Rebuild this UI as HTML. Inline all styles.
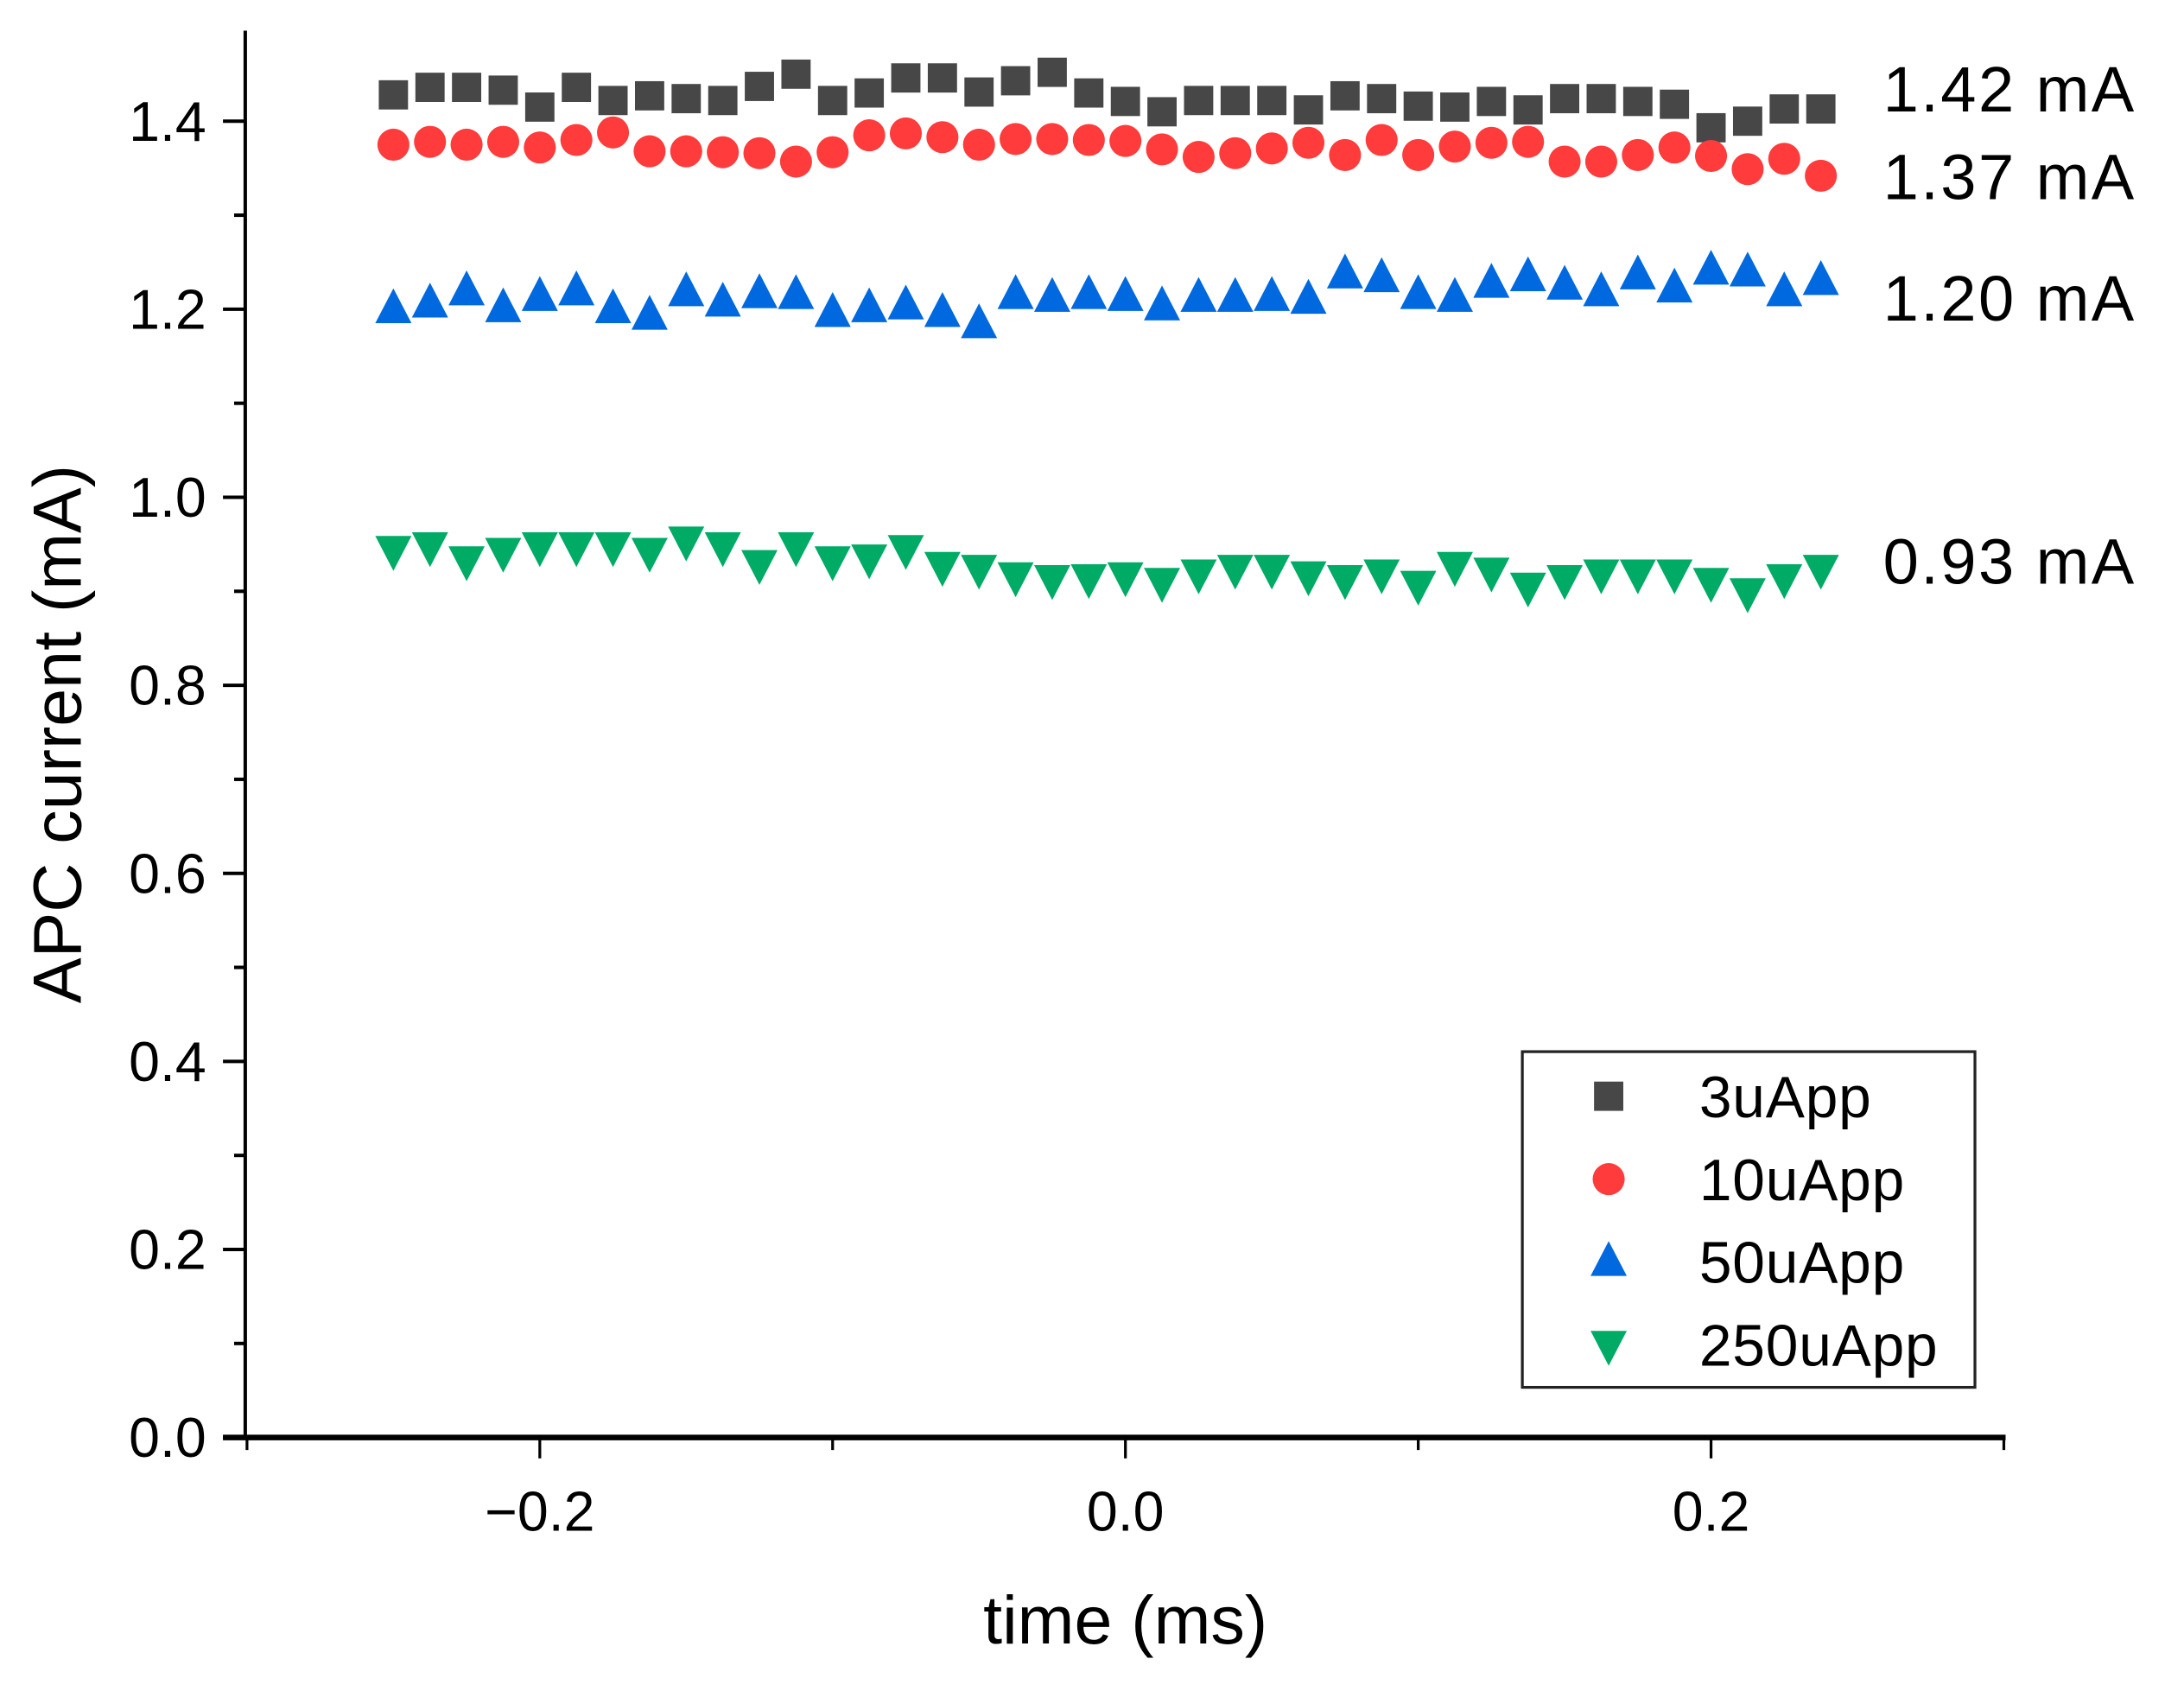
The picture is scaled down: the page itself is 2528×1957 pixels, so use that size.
<!DOCTYPE html>
<html><head><meta charset="utf-8"><style>
html,body{margin:0;padding:0;background:#fff;}
svg{display:block;font-family:"Liberation Sans",sans-serif;}
</style></head><body>
<svg id="chart" width="2528" height="1957" viewBox="0 0 1568 1214" xmlns="http://www.w3.org/2000/svg">
<g id="axes"></g>
<g id="marks"></g>
<g id="labels"></g>
<g id="legend"></g>
</svg>
<script>
const NS="http://www.w3.org/2000/svg";
const xTicks=[-0.2,0.0,0.2];
const xTickLabels=["\u22120.2","0.0","0.2"];
const yTicks=[0,0.2,0.4,0.6,0.8,1.0,1.2,1.4];
const yTickLabels=["0.0","0.2","0.4","0.6","0.8","1.0","1.2","1.4"];
const seriesNames=["3uApp","10uApp","50uApp","250uApp"];
const annotations=["1.42 mA","1.37 mA","1.20 mA","0.93 mA"];
const xStart=-0.25, xStep=0.0125;
const s3=[1.428,1.436,1.436,1.433,1.415,1.436,1.422,1.427,1.424,1.422,1.437,1.450,1.422,1.430,1.446,1.446,1.431,1.443,1.452,1.430,1.421,1.410,1.422,1.422,1.422,1.412,1.427,1.424,1.416,1.415,1.421,1.412,1.424,1.424,1.421,1.418,1.393,1.400,1.413,1.413];
const s10=[1.375,1.378,1.375,1.378,1.372,1.380,1.388,1.368,1.368,1.367,1.366,1.357,1.367,1.385,1.387,1.383,1.375,1.381,1.381,1.380,1.379,1.370,1.362,1.366,1.371,1.377,1.364,1.380,1.364,1.373,1.377,1.378,1.357,1.357,1.364,1.372,1.363,1.349,1.360,1.342];
const s50=[1.200,1.206,1.219,1.201,1.213,1.219,1.200,1.193,1.218,1.207,1.216,1.215,1.196,1.201,1.204,1.196,1.184,1.215,1.212,1.215,1.213,1.203,1.212,1.212,1.213,1.210,1.237,1.233,1.215,1.212,1.227,1.234,1.225,1.218,1.236,1.222,1.241,1.239,1.218,1.230];
const s250=[0.944,0.948,0.933,0.942,0.948,0.948,0.948,0.942,0.954,0.948,0.929,0.948,0.933,0.935,0.945,0.927,0.924,0.916,0.913,0.914,0.916,0.910,0.919,0.924,0.924,0.917,0.913,0.919,0.907,0.927,0.921,0.905,0.913,0.919,0.919,0.919,0.910,0.899,0.914,0.924];
const colors=["#474747","#ff3b3b","#0069df","#00ab66"];
const X=v=>808+v*2102.5;
const Y=v=>1032-v*675;
function mk(tag,attrs,parent){const e=document.createElementNS(NS,tag);for(const k in attrs)e.setAttribute(k,attrs[k]);parent.appendChild(e);return e;}
const axes=document.getElementById('axes');
let e;
e=mk('line',{x1:176,y1:22,x2:176,y2:1032,stroke:'#000','stroke-width':2.5},axes);


e=mk('line',{x1:160,y1:1032,x2:1440,y2:1032,stroke:'#000','stroke-width':4},axes);


for(let i=0;i<=14;i++){const v=i*0.1;const major=i%2===0;
 e=mk('line',{x1:major?160:168,y1:Y(v),x2:176,y2:Y(v),stroke:'#000','stroke-width':2.5},axes);
 
 }
yTicks.forEach((v,i)=>{e=mk('text',{x:148,y:Y(v)+14,'text-anchor':'end','font-size':40,fill:'#000'},axes);e.textContent=yTickLabels[i];
 
 });
for(let i=-3;i<=3;i++){const v=i*0.1;const major=i%2===0;
 e=mk('line',{x1:X(v),y1:1032,x2:X(v),y2:major?1047:1041,stroke:'#000','stroke-width':2},axes);
 
 }
xTicks.forEach((v,i)=>{e=mk('text',{x:X(v),y:1099,'text-anchor':'middle','font-size':40,fill:'#000'},axes);e.textContent=xTickLabels[i];
 
 });
e=mk('text',{x:808,y:1180,'text-anchor':'middle','font-size':49,fill:'#000'},axes);e.textContent='time (ms)';


e=mk('text',{x:0,y:0,'text-anchor':'middle','font-size':49,fill:'#000',transform:'translate(58,527) rotate(-90)'},axes);e.textContent='APC current (mA)';



function marker(type,cx,cy,color,parent){
 if(type===0) return mk('rect',{x:cx-10.5,y:cy-10.5,width:21,height:21,fill:color},parent);
 if(type===1) return mk('circle',{cx:cx,cy:cy,r:11.5,fill:color},parent);
 if(type===2) return mk('polygon',{points:`${cx},${cy-15} ${cx-13},${cy+10} ${cx+13},${cy+10}`,fill:color},parent);
 return mk('polygon',{points:`${cx},${cy+15} ${cx-13},${cy-10} ${cx+13},${cy-10}`,fill:color},parent);
}
const marks=document.getElementById('marks');
[s3,s10,s50,s250].forEach((arr,si)=>{
 const g=mk('g',{},marks);
 
 
 arr.forEach((v,i)=>{const m=marker(si,X(xStart+i*xStep),Y(v),colors[si],g);
  
  });
});
const labels=document.getElementById('labels');
const annY=[80,143,230,419];
annotations.forEach((t,i)=>{e=mk('text',{x:1352,y:annY[i],'font-size':46,'letter-spacing':1.5,fill:'#000'},labels);e.textContent=t;
 
 });
const legend=document.getElementById('legend');
e=mk('rect',{x:1093,y:755,width:325,height:241,fill:'#fff',stroke:'#222','stroke-width':2},legend);


seriesNames.forEach((n,i)=>{const cy=787+i*59.5;
 const g=mk('g',{},legend);
 
 
 marker(i,1155,cy,colors[i],g);
 const t=mk('text',{x:1220,y:cy+15,'font-size':42,'letter-spacing':0.5,fill:'#000'},g);t.textContent=n;
});
</script>
</body></html>
